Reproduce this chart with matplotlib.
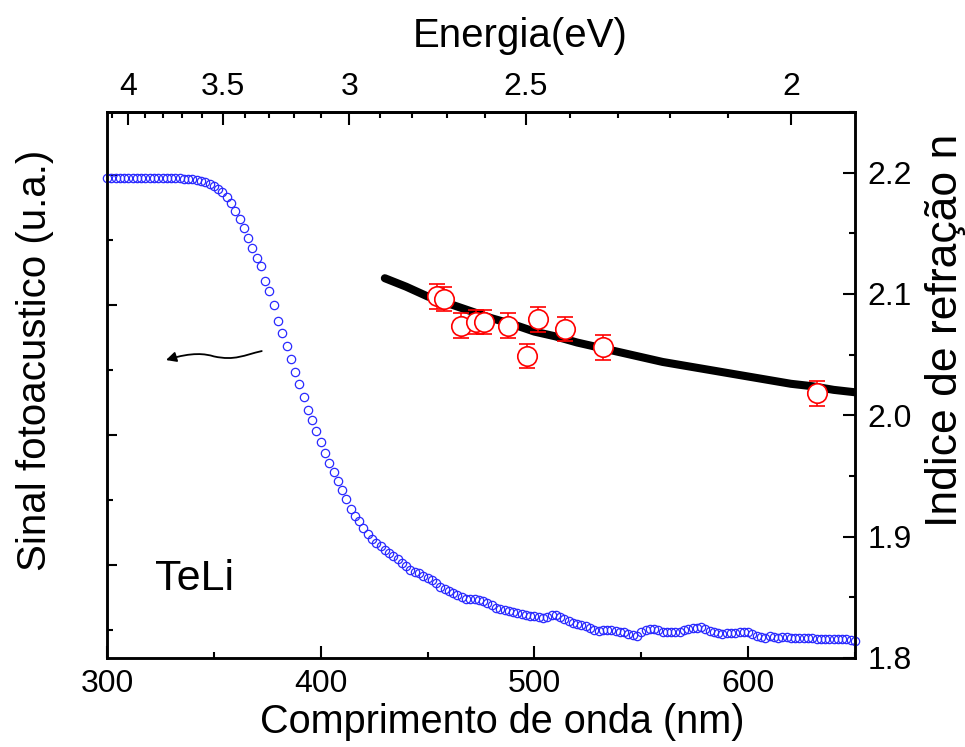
import numpy as np
import matplotlib
import matplotlib.pyplot as plt
from matplotlib.path import Path
from matplotlib.patches import FancyArrowPatch
from matplotlib.ticker import MultipleLocator, FixedLocator, NullFormatter

matplotlib.use("Agg")

plt.rcParams["font.family"] = ["Liberation Sans", "DejaVu Sans"]

# --- photoacoustic spectrum (left axis, arbitrary units), 2 nm steps ---
pa_wavelength = np.arange(300, 652, 2)
pa_signal = [
    3.977, 3.977, 3.977, 3.977, 3.977, 3.977, 3.977, 3.977, 3.977, 3.977,
    3.977, 3.977, 3.977, 3.977, 3.977, 3.977, 3.977, 3.975, 3.973, 3.969,
    3.967, 3.962, 3.954, 3.944, 3.931, 3.915, 3.895, 3.869, 3.831, 3.785,
    3.723, 3.662, 3.592, 3.515, 3.435, 3.362, 3.300, 3.185, 3.108, 3.000,
    2.877, 2.785, 2.685, 2.588, 2.485, 2.392, 2.296, 2.196, 2.115, 2.031,
    1.950, 1.865, 1.788, 1.715, 1.646, 1.577, 1.508, 1.431, 1.377, 1.338,
    1.288, 1.242, 1.204, 1.169, 1.146, 1.119, 1.092, 1.072, 1.048, 1.019,
    0.992, 0.965, 0.950, 0.942, 0.912, 0.898, 0.888, 0.865, 0.835, 0.812,
    0.798, 0.786, 0.767, 0.752, 0.738, 0.736, 0.736, 0.732, 0.722, 0.709,
    0.696, 0.673, 0.661, 0.655, 0.650, 0.642, 0.631, 0.623, 0.615, 0.611,
    0.605, 0.597, 0.592, 0.600, 0.612, 0.613, 0.598, 0.587, 0.573, 0.555,
    0.544, 0.537, 0.531, 0.515, 0.502, 0.496, 0.498, 0.504, 0.498, 0.491,
    0.487, 0.484, 0.473, 0.465, 0.457, 0.482, 0.503, 0.507, 0.506, 0.500,
    0.488, 0.484, 0.484, 0.487, 0.487, 0.502, 0.511, 0.515, 0.519, 0.525,
    0.511, 0.495, 0.485, 0.478, 0.471, 0.477, 0.479, 0.480, 0.482, 0.486,
    0.487, 0.469, 0.455, 0.443, 0.442, 0.452, 0.445, 0.442, 0.445, 0.446,
    0.440, 0.437, 0.436, 0.436, 0.436, 0.436, 0.433, 0.431, 0.431, 0.431,
    0.435, 0.433, 0.431, 0.428, 0.423, 0.415,
]

# --- measured refractive index (right axis) ---
n_wavelength = [454.3, 457.9, 465.7, 472.7, 476.6, 487.8, 496.4, 501.5, 514.3, 532.0, 632.4]
n_value = [2.098, 2.096, 2.074, 2.077, 2.077, 2.074, 2.049, 2.079, 2.071, 2.056, 2.018]
n_error = [0.01] * len(n_value)

# --- dispersion fit curve ---
fit_wavelength = [430, 440, 450, 460, 470, 480, 490, 500, 510, 520, 530, 540,
                  550, 560, 570, 580, 590, 600, 610, 620, 630, 640, 650]
fit_n = [2.113, 2.106, 2.098, 2.092, 2.086, 2.080, 2.075, 2.069, 2.065, 2.060,
         2.056, 2.052, 2.048, 2.044, 2.041, 2.038, 2.035, 2.032, 2.029, 2.026,
         2.024, 2.021, 2.019]

energy_ticks = [4, 3.5, 3, 2.5, 2]
energy_minor = [4.1, 3.9, 3.8, 3.7, 3.6, 3.4, 3.3, 3.2, 3.1, 2.9, 2.8, 2.7,
                2.6, 2.4, 2.3, 2.2, 2.1, 1.9]

W, H = 965, 747
fig = plt.figure(figsize=(W / 100, H / 100), dpi=100)
ax = fig.add_axes([107 / W, 1 - 658 / H, (855 - 107) / W, (658 - 112) / H])
ax2 = ax.twinx()

spine_w = 1.8
tick_kw = dict(direction="in", width=1.5, labelsize=23)

# left axis: photoacoustic signal
ax.plot(pa_wavelength, pa_signal, "o", ms=6, mfc="none", mec="#2a2aff",
        mew=0.9, clip_on=False, zorder=3)
ax.set_xlim(300, 650)
ax.set_ylim(0.285, 4.485)
ax.xaxis.set_major_locator(MultipleLocator(100))
ax.xaxis.set_minor_locator(MultipleLocator(50))
ax.yaxis.set_major_locator(MultipleLocator(1))
ax.yaxis.set_minor_locator(MultipleLocator(0.5))
ax.yaxis.set_major_formatter(NullFormatter())
ax.tick_params(axis="both", which="major", length=9, pad=8, **tick_kw)
ax.tick_params(axis="both", which="minor", length=4.5, direction="in", width=1.5)
ax.tick_params(axis="y", which="major", length=7)
for s in ax.spines.values():
    s.set_linewidth(spine_w)

# right axis: refractive index
ax2.plot(fit_wavelength, fit_n, color="black", lw=5.8, solid_capstyle="round",
         zorder=2)
ax2.errorbar(n_wavelength, n_value, yerr=n_error, fmt="o", ms=14, mfc="white",
             mec="red", mew=1.2, ecolor="red", elinewidth=1.1, capsize=5.5,
             capthick=1.1, zorder=4)
ax2.set_ylim(1.8, 2.25)
ax2.yaxis.set_major_locator(MultipleLocator(0.1))
ax2.yaxis.set_minor_locator(MultipleLocator(0.05))
ax2.tick_params(axis="y", which="major", length=9, pad=9, **tick_kw)
ax2.tick_params(axis="y", which="minor", length=4.5, direction="in", width=1.5)
for s in ax2.spines.values():
    s.set_linewidth(spine_w)

# top axis: photon energy
top = ax.secondary_xaxis("top", functions=(lambda l: 1240.0 / l,
                                           lambda e: 1240.0 / e))
top.xaxis.set_major_locator(FixedLocator(energy_ticks))
top.xaxis.set_minor_locator(FixedLocator(energy_minor))
top.xaxis.set_major_formatter(plt.FuncFormatter(lambda v, p: f"{v:g}"))
top.tick_params(axis="x", which="major", length=9, pad=7, **tick_kw)
top.tick_params(axis="x", which="minor", length=4.5, direction="in", width=1.5)
top.spines["top"].set_linewidth(spine_w)

# curved arrow pointing to the left axis
verts = [(372.4, 2.646), (364, 2.615), (360, 2.570), (350, 2.605),
         (346, 2.625), (340, 2.640), (327.6, 2.577)]
codes = [Path.MOVETO] + [Path.CURVE4] * 6
arrow = FancyArrowPatch(path=Path(verts, codes), arrowstyle="-|>",
                        mutation_scale=15, lw=1.3, color="black",
                        transform=ax.transData)
ax.add_patch(arrow)

ax.text(322.5, 0.808, "TeLi", fontsize=31, ha="left", va="baseline")

fig.text(502 / W, 1 - 722 / H, "Comprimento de onda (nm)", fontsize=28.5,
         ha="center", va="center")
fig.text(520 / W, 1 - 36 / H, "Energia(eV)", fontsize=29,
         ha="center", va="center")
fig.text(35 / W, 1 - 360 / H, "Sinal fotoacustico (u.a.)", fontsize=29,
         rotation=90, ha="center", va="center")
fig.text(946 / W, 1 - 330 / H, "Indice de refração n", fontsize=32,
         rotation=90, ha="center", va="center")

fig.savefig("out.png", dpi=100)
